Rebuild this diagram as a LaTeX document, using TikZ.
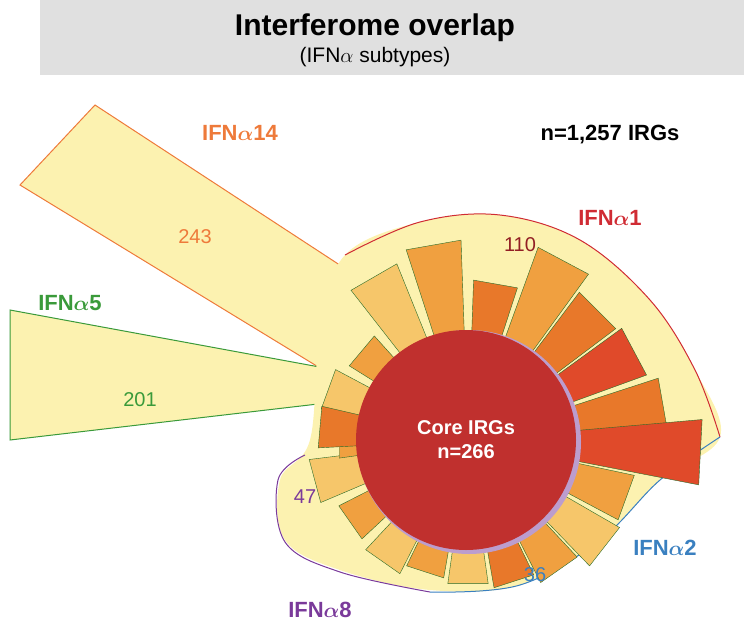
\documentclass[tikz,border=0pt]{standalone}
\usepackage{amsmath,amssymb,bm}
\usepackage{fontspec}
\setmainfont{Liberation Sans}
\usetikzlibrary{calc}
\definecolor{yel}{HTML}{FCF2B0}
\definecolor{lo}{HTML}{F6C66A}
\definecolor{mo}{HTML}{F0A040}
\definecolor{do}{HTML}{E8782A}
\definecolor{ro}{HTML}{E04A2A}
\definecolor{core}{HTML}{C0302E}
\definecolor{ired}{HTML}{D02C34}
\definecolor{iorg}{HTML}{EE7A3A}
\definecolor{igrn}{HTML}{3A9A3A}
\definecolor{iblu}{HTML}{3A80C0}
\definecolor{ipur}{HTML}{7A3A9A}
\begin{document}
\begin{tikzpicture}[x=1pt,y=-1pt,
  lab/.style={font=\fontsize{22}{24}\selectfont\bfseries},
  num/.style={font=\fontsize{20}{22}\selectfont},
  wedge/.style={draw=igrn!70!black,line width=0.4pt}]
\useasboundingbox (0,0) rectangle (744,638);
\fill[black!12] (40,0) rectangle (744,75);
\node[font=\fontsize{30}{32}\selectfont\bfseries] (title) at (375,28) {Interferome overlap};
\node[font=\fontsize{21}{23}\selectfont] (sub) at (375,57) {(IFN$\alpha$ subtypes)};
\node[font=\fontsize{22}{24}\selectfont\bfseries] (n) at (610,135) {n=1,257 IRGs};
% petals
\draw[fill=yel,draw=iorg,line width=1pt] (95,105) -- (20,185) -- (320,368) -- (378,290) -- cycle;
\draw[fill=yel,draw=igrn,line width=1pt] (10,310) -- (10,440) -- (335,402) -- (325,368) -- cycle;
% outer blob
\fill[yel] plot[smooth cycle,tension=0.6] coordinates {(345,255) (420,222) (500,215) (580,240) (650,300) (695,370) (720,437) (660,480) (600,540) (520,585) (430,590) (340,570) (285,540) (280,480) (310,440) (320,330)};
\draw[ired,line width=1pt] plot[smooth,tension=0.6] coordinates {(345,255) (420,222) (500,215) (580,240) (650,300) (695,370) (720,437)};
\draw[iblu,line width=1pt] plot[smooth,tension=0.6] coordinates {(720,437) (660,480) (600,540) (520,585) (430,592)};
\draw[ipur,line width=1pt] plot[smooth,tension=0.6] coordinates {(430,592) (340,572) (285,542) (278,480) (305,455)};
% wedges
\coordinate (C) at (468,440);
\foreach \a/\r/\c in {-160/150/lo,-140/140/mo,-120/190/lo,-100/200/mo,-80/160/do,-62/205/mo,-45/185/do,-28/190/ro,-10/200/do,3/235/ro,20/170/mo,38/175/lo,55/160/mo,72/150/do,90/145/lo,108/140/mo,125/150/lo,145/145/mo,165/160/lo,180/130/mo,-175/150/do}{
  \draw[wedge,fill=\c] (C) -- ($(C)+(\a-8:\r)$) -- ($(C)+(\a+8:\r)$) -- cycle;
}
\fill[ipur!50] (469,442) circle (112);
\fill[core] (466,440) circle (110);
\node[font=\fontsize{20}{24}\selectfont\bfseries,text=white,align=center] (coreL) at (466,440) {Core IRGs\\n=266};
% labels
\node[lab,text=iorg] (l14) at (240,133) {IFN$\bm\alpha$14};
\node[num,text=iorg] (n14) at (195,237) {243};
\node[lab,text=igrn] (l5) at (70,303) {IFN$\bm\alpha$5};
\node[num,text=igrn] (n5) at (140,400) {201};
\node[lab,text=ired] (l1) at (610,218) {IFN$\bm\alpha$1};
\node[num,text=ired!70!black] (n1) at (520,245) {110};
\node[lab,text=iblu] (l2) at (665,548) {IFN$\bm\alpha$2};
\node[num,text=iblu] (n2) at (535,575) {36};
\node[lab,text=ipur] (l8) at (320,610) {IFN$\bm\alpha$8};
\node[num,text=ipur] (n8) at (305,497) {47};
\end{tikzpicture}
\end{document}
